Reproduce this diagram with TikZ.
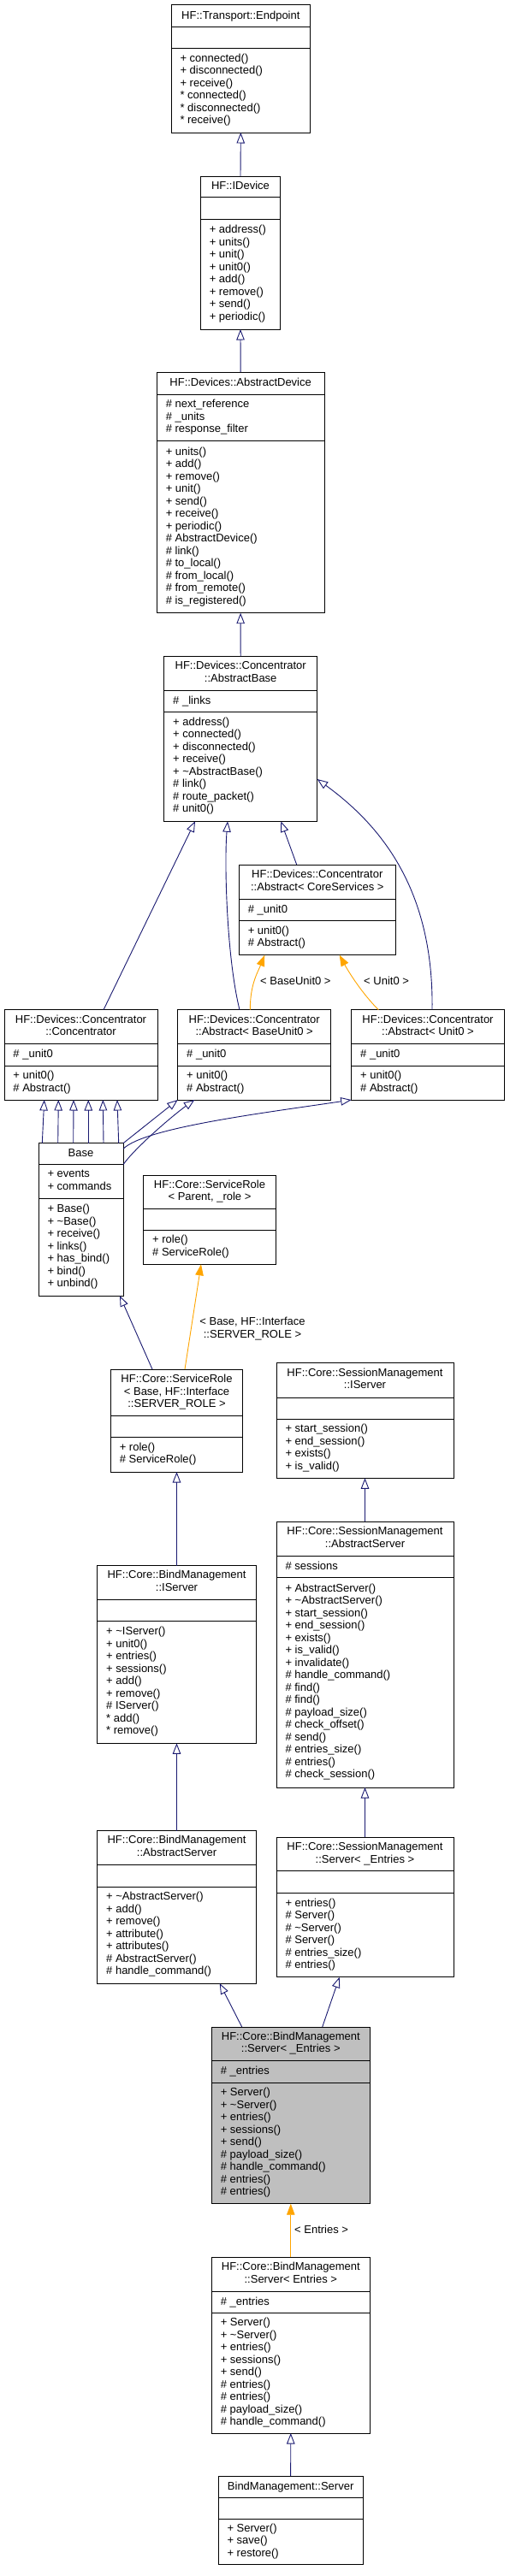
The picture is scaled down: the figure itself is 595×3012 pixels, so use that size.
\documentclass[tikz,border=0pt]{standalone}
\usepackage{fontspec}
\setmainfont{Liberation Sans}
\usetikzlibrary{arrows.meta,fit}
\definecolor{edgeblue}{HTML}{191970}
\definecolor{edgeorange}{HTML}{FFA500}
\definecolor{boxgray}{HTML}{BFBFBF}
\newcommand\ustrut{\rule[-3.75pt]{0pt}{14.5pt}}
\newcommand\umlfont{\fontsize{13}{14.5}\selectfont}
\tikzset{
  umlrect/.style={draw=black, line width=0.9pt, inner sep=0pt, outer sep=0pt},
  umlsep/.style={draw=black, line width=0.9pt},
  umltitle/.style={font=\umlfont, align=center, inner sep=0pt,
    execute at begin node=\ustrut, execute at end node=\ustrut},
  umlmemb/.style={font=\umlfont, align=left, anchor=west, inner sep=0pt,
    execute at begin node=\ustrut, execute at end node=\ustrut},
  inh/.style={draw=edgeblue, line width=0.9pt,
    -{Triangle[open, length=12.5pt, width=9.5pt]}},
  tmpl/.style={draw=edgeorange, line width=0.9pt,
    -{Triangle[length=13pt, width=9.5pt, fill=edgeorange]}},
  elabel/.style={font=\umlfont, inner sep=0pt, text=black}
}
% #1 fill, #2 name, #3 left, #4 top, #5 right, #6 bottom, #7 sep1, #8 sep2
\newcommand\umlbox[8][white]{%
  \node[umlrect, fill=#1, fit={(#3,#4) (#5,#6)}] (#2) {};
  \draw[umlsep] (#3,#7) -- (#5,#7);
  \draw[umlsep] (#3,#8) -- (#5,#8);
  \def\uL{#3}\def\uR{#5}\def\uT{#4}\def\uB{#6}\def\uA{#7}\def\uS{#8}\def\uN{#2}}
\newcommand\umltitle[1]{\node[umltitle] (\uN-t) at ({(\uL+\uR)/2},{(\uT+\uA)/2}) {#1};}
\newcommand\umlattr[1]{\node[umlmemb] (\uN-a) at ({\uL+10.3},{(\uA+\uS)/2}) {#1};}
\newcommand\umlmeth[1]{\node[umlmemb] (\uN-m) at ({\uL+10.3},{(\uS+\uB)/2}) {#1};}
\newcommand\tl{\textasciitilde}
\begin{document}
\begin{tikzpicture}[x=1pt,y=-1pt]
\useasboundingbox (0,0) rectangle (595,3012);

\umlbox{ep}{200}{5.7}{362.7}{155}{31.7}{56.7}
\umltitle{HF::Transport::Endpoint}
\umlmeth{+ connected()\\+ disconnected()\\+ receive()\\{}* connected()\\{}* disconnected()\\{}* receive()}

\umlbox{idev}{234.3}{206}{327.7}{385}{230.7}{256.7}
\umltitle{HF::IDevice}
\umlmeth{+ address()\\+ units()\\+ unit()\\+ unit0()\\+ add()\\+ remove()\\+ send()\\+ periodic()}

\umlbox{adev}{183.3}{435}{379}{716.7}{461}{515.7}
\umltitle{HF::Devices::AbstractDevice}
\umlattr{\# next\_reference\\\# \_units\\\# response\_filter}
\umlmeth{+ units()\\+ add()\\+ remove()\\+ unit()\\+ send()\\+ receive()\\+ periodic()\\\# AbstractDevice()\\\# link()\\\# to\_local()\\\# from\_local()\\\# from\_remote()\\\# is\_registered()}

\umlbox{abase}{191.7}{767.3}{370.7}{960.3}{807.3}{832.3}
\umltitle{HF::Devices::Concentrator\\::AbstractBase}
\umlattr{\# \_links}
\umlmeth{+ address()\\+ connected()\\+ disconnected()\\+ receive()\\+ \tl AbstractBase()\\\# link()\\\# route\_packet()\\\# unit0()}

\umlbox{core}{279.3}{1011}{462.3}{1116.7}{1051}{1076.7}
\umltitle{HF::Devices::Concentrator\\::Abstract< CoreServices >}
\umlattr{\# \_unit0}
\umlmeth{+ unit0()\\\# Abstract()}

\umlbox{conc}{5}{1180.7}{184}{1286}{1220.7}{1246}
\umltitle{HF::Devices::Concentrator\\::Concentrator}
\umlattr{\# \_unit0}
\umlmeth{+ unit0()\\\# Abstract()}

\umlbox{bu0}{207.7}{1180.7}{386.7}{1286}{1220.7}{1246}
\umltitle{HF::Devices::Concentrator\\::Abstract< BaseUnit0 >}
\umlattr{\# \_unit0}
\umlmeth{+ unit0()\\\# Abstract()}

\umlbox{u0}{410.7}{1180.7}{589.3}{1286}{1220.7}{1246}
\umltitle{HF::Devices::Concentrator\\::Abstract< Unit0 >}
\umlattr{\# \_unit0}
\umlmeth{+ unit0()\\\# Abstract()}

\umlbox{base}{45}{1336.7}{144}{1515}{1361.7}{1401.7}
\umltitle{Base}
\umlattr{+ events\\+ commands}
\umlmeth{+ Base()\\+ \tl Base()\\+ receive()\\+ links()\\+ has\_bind()\\+ bind()\\+ unbind()}

\umlbox{srp}{167.7}{1374}{322.3}{1478.3}{1413.3}{1438.3}
\umltitle{HF::Core::ServiceRole\\< Parent, \_role >}
\umlmeth{+ role()\\\# ServiceRole()}

\umlbox{srb}{129.3}{1601}{283.7}{1721}{1655.7}{1680.7}
\umltitle{HF::Core::ServiceRole\\< Base, HF::Interface\\::SERVER\_ROLE >}
\umlmeth{+ role()\\\# ServiceRole()}

\umlbox{smi}{323}{1593.3}{530}{1728.3}{1634}{1659}
\umltitle{HF::Core::SessionManagement\\::IServer}
\umlmeth{+ start\_session()\\+ end\_session()\\+ exists()\\+ is\_valid()}

\umlbox{sma}{323}{1779.3}{530}{2090}{1819.3}{1844.3}
\umltitle{HF::Core::SessionManagement\\::AbstractServer}
\umlattr{\# sessions}
\umlmeth{+ AbstractServer()\\+ \tl AbstractServer()\\+ start\_session()\\+ end\_session()\\+ exists()\\+ is\_valid()\\+ invalidate()\\\# handle\_command()\\\# find()\\\# find()\\\# payload\_size()\\\# check\_offset()\\\# send()\\\# entries\_size()\\\# entries()\\\# check\_session()}

\umlbox{bmi}{113.7}{1830.7}{299.3}{2038.3}{1870}{1895.7}
\umltitle{HF::Core::BindManagement\\::IServer}
\umlmeth{+ \tl IServer()\\+ unit0()\\+ entries()\\+ sessions()\\+ add()\\+ remove()\\\# IServer()\\{}* add()\\{}* remove()}

\umlbox{bma}{113.7}{2140.7}{299.3}{2319}{2180}{2206}
\umltitle{HF::Core::BindManagement\\::AbstractServer}
\umlmeth{+ \tl AbstractServer()\\+ add()\\+ remove()\\+ attribute()\\+ attributes()\\\# AbstractServer()\\\# handle\_command()}

\umlbox{sms}{323}{2148.3}{530}{2311.7}{2187.7}{2213.3}
\umltitle{HF::Core::SessionManagement\\::Server< \_Entries >}
\umlmeth{+ entries()\\\# Server()\\\# \tl Server()\\\# Server()\\\# entries\_size()\\\# entries()}

\umlbox[boxgray]{bms}{247.3}{2370}{432.3}{2576.7}{2409.3}{2435}
\umltitle{HF::Core::BindManagement\\::Server< \_Entries >}
\umlattr{\# \_entries}
\umlmeth{+ Server()\\+ \tl Server()\\+ entries()\\+ sessions()\\+ send()\\\# payload\_size()\\\# handle\_command()\\\# entries()\\\# entries()}

\umlbox{bme}{247.3}{2639.3}{432.3}{2845}{2679.3}{2704.3}
\umltitle{HF::Core::BindManagement\\::Server< Entries >}
\umlattr{\# \_entries}
\umlmeth{+ Server()\\+ \tl Server()\\+ entries()\\+ sessions()\\+ send()\\\# entries()\\\# entries()\\\# payload\_size()\\\# handle\_command()}

\umlbox{bs}{255}{2895}{424.3}{2998.3}{2920}{2945}
\umltitle{BindManagement::Server}
\umlmeth{+ Server()\\+ save()\\+ restore()}

% ---- connectors ----
\draw[inh] (idev.north) -- (ep.south);
\draw[inh] (adev.north) -- (idev.south);
\draw[inh] (abase.north) -- (adev.south);
\draw[inh] ([xshift=116pt]conc.north west) -- ([xshift=36.3pt]abase.south west);
\draw[inh] ([xshift=72.3pt]bu0.north west) .. controls +(-15,-60.7) and +(-4,50) .. ([xshift=74.3pt]abase.south west);
\draw[inh] ([xshift=67.4pt]core.north west) -- ([xshift=136.6pt]abase.south west);
\draw[inh] ([xshift=94.3pt]u0.north west) .. controls +(2,-140.7) and +(74.3,54) .. ([yshift=49.3pt]abase.south east);
\draw[tmpl] ([xshift=84.6pt]bu0.north west) .. controls +(0,-30) and +(-8,20) .. ([xshift=30pt]core.south west);
\draw[tmpl] ([xshift=31.6pt]u0.north west) .. controls +(-18,-18) and +(12,22) .. ([xshift=117.4pt]core.south west);
\node[elabel, anchor=west] (lbu0) at (304,1147) {< BaseUnit0 >};
\node[elabel, anchor=west] (lu0) at (425,1147) {< Unit0 >};
\foreach \a/\b in {4.3/46.7, 22.7/63.3, 40.7/81, 58.3/98.3, 76/115.3, 93.7/132}
  \draw[inh] ([xshift=\a pt]base.north west) -- ([xshift=\b pt]conc.south west);
\draw[inh] (base.north east) -- (bu0.south west);
\draw[inh] ([yshift=-25pt]base.north east) .. controls +(14,-20) and +(-25,18) .. ([xshift=19.6pt]bu0.south west);
\draw[inh] ([yshift=-6.6pt]base.north east) .. controls +(25,-25) and +(-100,15) .. (u0.south west);
\draw[inh] ([xshift=48.7pt]srb.north west) -- ([xshift=95pt]base.south west);
\draw[tmpl] ([xshift=86.7pt]srb.north west) -- ([xshift=67.3pt]srp.south west);
\node[elabel, align=center] (lsrb) at (295,1553.7) {< Base, HF::Interface\\::SERVER\_ROLE >};
\draw[inh] (bmi.north) -- (srb.south);
\draw[inh] (sma.north) -- (smi.south);
\draw[inh] (bma.north) -- (bmi.south);
\draw[inh] (sms.north) -- (sma.south);
\draw[inh] ([xshift=35.4pt]bms.north west) -- ([xshift=143pt]bma.south west);
\draw[inh] ([xshift=129.4pt]bms.north west) -- ([xshift=73.7pt]sms.south west);
\draw[tmpl] (bme.north) -- (bms.south);
\node[elabel, anchor=west] (lent) at (344,2606.7) {< Entries >};
\draw[inh] (bs.north) -- (bme.south);
\end{tikzpicture}
\end{document}
